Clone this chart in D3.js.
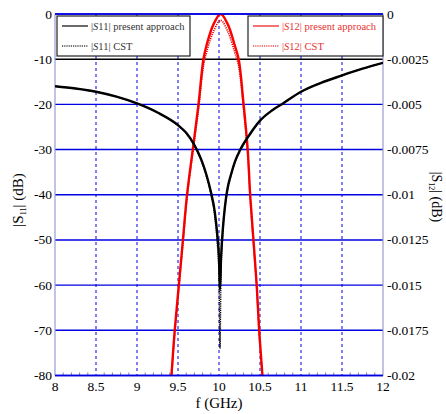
<!DOCTYPE html>
<html><head><meta charset="utf-8">
<script src="https://cdn.jsdelivr.net/npm/d3@7"></script>
<style>body{margin:0;background:#fff}svg{display:block}</style>
</head><body><svg id="c" width="446" height="414"></svg>
<script>
// ---- data ----
const xTicks = [8, 8.5, 9, 9.5, 10, 10.5, 11, 11.5, 12];
const xTickLabels = ["8", "8.5", "9", "9.5", "10", "10.5", "11", "11.5", "12"];
const yLeftTicks = [0, -10, -20, -30, -40, -50, -60, -70, -80];
const yRightTicks = [0, -0.0025, -0.005, -0.0075, -0.01, -0.0125, -0.015, -0.0175, -0.02];
const yRightLabels = ["0", "-0.0025", "-0.005", "-0.0075", "-0.01", "-0.0125", "-0.015", "-0.0175", "-0.02"];

const s11Freq = [8.0, 8.25, 8.5, 8.75, 9.0, 9.25, 9.5, 9.6, 9.7, 9.75, 9.8, 9.85, 9.9, 9.95, 9.98, 10.0, 10.012, 10.025, 10.045, 10.07, 10.1, 10.15, 10.2, 10.26, 10.38, 10.5, 10.65, 10.78, 11.0, 11.25, 11.5, 11.75, 12.0];
const s11Present = [-16.0, -16.5, -17.2, -18.3, -19.8, -21.8, -24.6, -26.3, -29.0, -30.8, -33.0, -35.8, -39.3, -44.0, -49.0, -54.0, -61.0, -54.0, -48.0, -43.0, -39.0, -35.3, -32.4, -30.0, -26.5, -23.6, -21.3, -19.8, -17.2, -15.2, -13.6, -12.1, -10.8];
const s11CST = [-16.0, -16.5, -17.2, -18.3, -19.8, -21.8, -24.7, -26.4, -29.2, -31.0, -33.3, -36.2, -39.8, -45.0, -51.0, -58.0, -74.0, -57.0, -49.0, -43.6, -39.4, -35.6, -32.6, -30.2, -26.6, -23.7, -21.3, -19.8, -17.2, -15.2, -13.6, -12.1, -10.8];

const s12Freq = [9.40, 9.42, 9.46, 9.51, 9.56, 9.61, 9.68, 9.75, 9.81, 9.85, 9.93, 10.02, 10.11, 10.19, 10.24, 10.30, 10.35, 10.38, 10.42, 10.46, 10.49, 10.53, 10.55];
const s12Present = [-0.0215, -0.02, -0.0175, -0.015, -0.0125, -0.01, -0.0075, -0.005, -0.0025, -0.0017, -0.0006, 0, -0.0006, -0.0017, -0.0025, -0.005, -0.0075, -0.01, -0.0125, -0.015, -0.0175, -0.02, -0.0215];
const s12CST = [-0.0217, -0.0202, -0.0177, -0.0152, -0.0127, -0.0102, -0.0077, -0.0053, -0.0029, -0.0021, -0.001, -0.00035, -0.001, -0.0021, -0.0029, -0.0053, -0.0077, -0.0102, -0.0127, -0.0152, -0.0177, -0.0202, -0.0217];

// ---- font detection (pick an installed serif face) ----
function pickFont(cands) {
  const ctx = document.createElement("canvas").getContext("2d");
  const s = "mmmmmmmmmmlliWW0123456789";
  const base = ["monospace", "sans-serif"].map(b => { ctx.font = "72px " + b; return ctx.measureText(s).width; });
  for (const c of cands) {
    const ok = ["monospace", "sans-serif"].every((b, i) => { ctx.font = "72px \"" + c + "\", " + b; return ctx.measureText(s).width !== base[i]; });
    if (ok) return "\"" + c + "\", serif";
  }
  return "serif";
}
const FONT = pickFont(["Liberation Serif", "Times New Roman", "Tinos", "Nimbus Roman", "FreeSerif", "Noto Serif", "DejaVu Serif"]);

// ---- layout ----
const L = 55, R = 383, T = 14, B = 375.5;
const svg = d3.select("#c").attr("font-family", FONT);
const BLUE = "#0000e0";

const x = d3.scaleLinear().domain([8, 12]).range([L, R]);
const yL = d3.scaleLinear().domain([-80, 0]).range([B, T]);
const yR = d3.scaleLinear().domain([-0.02, 0]).range([B, T]);

svg.append("rect").attr("width", 446).attr("height", 414).attr("fill", "#fff");

svg.append("defs").append("clipPath").attr("id", "clip")
  .append("rect").attr("x", L).attr("y", T).attr("width", R - L).attr("height", B - T);

// vertical dashed grid
svg.append("g").selectAll("line").data(xTicks.slice(1, -1)).join("line")
  .attr("x1", d => x(d)).attr("x2", d => x(d)).attr("y1", T).attr("y2", B)
  .attr("stroke", BLUE).attr("stroke-width", 1).attr("stroke-dasharray", "3,3");

// horizontal solid grid
svg.append("g").selectAll("line").data(yLeftTicks).join("line")
  .attr("x1", L).attr("x2", R).attr("y1", d => yL(d)).attr("y2", d => yL(d))
  .attr("stroke", d => d === -10 ? "#000" : BLUE).attr("stroke-width", 1.4);

// minor ticks on bottom axis
const minor = d3.range(81, 120).map(v => v / 10).filter(v => Math.abs(v * 2 - Math.round(v * 2)) > 1e-6);
svg.append("g").selectAll("line").data(minor).join("line")
  .attr("x1", d => x(d)).attr("x2", d => x(d)).attr("y1", B).attr("y2", B - 3)
  .attr("stroke", "#7777bb").attr("stroke-width", 1);

// axis side lines
svg.append("line").attr("x1", L).attr("x2", L).attr("y1", T).attr("y2", B).attr("stroke", "#9a9ad0").attr("stroke-width", 1.2);
svg.append("line").attr("x1", R).attr("x2", R).attr("y1", T).attr("y2", B).attr("stroke", "#9a9ad0").attr("stroke-width", 1.2);

// tick labels
svg.append("g").selectAll("text").data(yLeftTicks).join("text")
  .attr("x", L - 3).attr("y", d => yL(d) + 4.5).attr("text-anchor", "end")
  .attr("font-size", 13.5).attr("fill", "#000").text(d => d);
svg.append("g").selectAll("text").data(yRightTicks).join("text")
  .attr("x", R + 4).attr("y", d => yR(d) + 4.5).attr("text-anchor", "start")
  .attr("font-size", 13.5).attr("fill", "#000").text((d, i) => yRightLabels[i]);
svg.append("g").selectAll("text").data(xTicks).join("text")
  .attr("x", d => x(d)).attr("y", 391).attr("text-anchor", "middle")
  .attr("font-size", 13.5).attr("fill", "#000").text((d, i) => xTickLabels[i]);

// axis titles
svg.append("text").attr("x", x(10)).attr("y", 408).attr("text-anchor", "middle")
  .attr("font-size", 15).text("f (GHz)");

const yt = svg.append("text").attr("transform", "translate(23,200) rotate(-90)").attr("text-anchor", "middle")
  .attr("font-size", 15);
yt.append("tspan").text("|S");
yt.append("tspan").attr("font-size", 8).attr("dy", 3).text("11");
yt.append("tspan").attr("dy", -3).text("| (dB)");

const yt2 = svg.append("text").attr("transform", "translate(432,197) rotate(90)").attr("text-anchor", "middle")
  .attr("font-size", 14);
yt2.append("tspan").text("|S");
yt2.append("tspan").attr("font-size", 8).attr("dy", 3).text("12");
yt2.append("tspan").attr("dy", -3).text("| (dB)");

// curves
const plot = svg.append("g").attr("clip-path", "url(#clip)");
const lineL = d3.line().x(d => x(d[0])).y(d => yL(d[1])).curve(d3.curveMonotoneX);
const lineR = d3.line().x(d => x(d[0])).y(d => yR(d[1])).curve(d3.curveCatmullRom.alpha(0.5));

plot.append("path").datum(s12Freq.map((f, i) => [f, s12Present[i]])).attr("d", lineR)
  .attr("fill", "none").attr("stroke", "#ff0000").attr("stroke-width", 2.4);
plot.append("path").datum(s12Freq.map((f, i) => [f, s12CST[i]])).attr("d", lineR)
  .attr("fill", "none").attr("stroke", "#e00000").attr("stroke-width", 1.6).attr("stroke-dasharray", "1.2,1");

plot.append("path").datum(s11Freq.map((f, i) => [f, s11Present[i]])).attr("d", lineL)
  .attr("fill", "none").attr("stroke", "#000").attr("stroke-width", 2.4);
plot.append("path").datum(s11Freq.map((f, i) => [f, s11CST[i]])).attr("d", lineL)
  .attr("fill", "none").attr("stroke", "#000").attr("stroke-width", 1.4).attr("stroke-dasharray", "1.2,1");

// top and bottom axis lines
svg.append("line").attr("x1", L).attr("x2", R).attr("y1", T).attr("y2", T).attr("stroke", BLUE).attr("stroke-width", 1.4);
svg.append("line").attr("x1", L).attr("x2", R).attr("y1", B).attr("y2", B).attr("stroke", BLUE).attr("stroke-width", 1.6);

// legends
function legend(x0, y0, w, h, color, sub, textColor) {
  const g = svg.append("g");
  g.append("rect").attr("x", x0).attr("y", y0).attr("width", w).attr("height", h)
    .attr("fill", "#fff").attr("stroke", "#222").attr("stroke-width", 1.2);
  const rows = [["present approach", null], ["CST", "1.2,1"]];
  rows.forEach((r, i) => {
    const yy = y0 + 10 + i * 20;
    g.append("line").attr("x1", x0 + 5).attr("x2", x0 + 31).attr("y1", yy).attr("y2", yy)
      .attr("stroke", color).attr("stroke-width", r[1] ? 1.3 : 1.6).attr("stroke-dasharray", r[1]);
    const t = g.append("text").attr("x", x0 + 34).attr("y", yy + 3.5)
      .attr("font-size", 10.5).attr("fill", textColor);
    t.append("tspan").text("|");
    t.append("tspan").attr("font-style", "italic").text("S");
    t.append("tspan").text(sub + "| " + r[0]);
  });
}
legend(57, 16, 133, 40, "#444", "11", "#333");
legend(248, 16, 135, 40, "#f05050", "12", "#e83030");
</script></body></html>
